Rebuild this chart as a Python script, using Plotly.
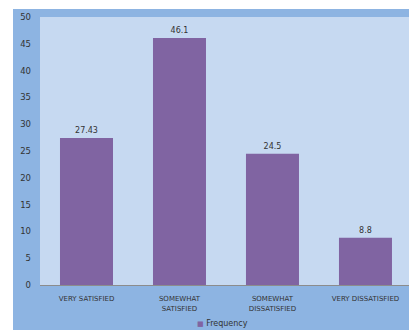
import plotly.graph_objects as go

categories = ["VERY SATISFIED", "SOMEWHAT<br>SATISFIED", "SOMEWHAT<br>DISSATISFIED", "VERY DISSATISFIED"]
frequency = [27.43, 46.1, 24.5, 8.8]
value_labels = ["27.43", "46.1", "24.5", "8.8"]
y_ticks = [0, 5, 10, 15, 20, 25, 30, 35, 40, 45, 50]
series_name = "Frequency"

W, H = 409, 330
L, R, T, B = 40, 0, 17, 45
PW, PH = W - L - R, H - T - B

fig = go.Figure()
fig.add_trace(go.Bar(
    x=list(range(len(categories))), y=frequency, name=series_name,
    marker=dict(color="#8064A2", line=dict(width=0)),
    text=value_labels, textposition="outside", cliponaxis=False,
    textfont=dict(family="DejaVu Sans", size=8, color="#333333"),
    width=0.57, showlegend=False,
))

fig.update_layout(
    width=W, height=H,
    margin=dict(l=L, r=R, t=T, b=B, pad=0),
    paper_bgcolor="#8DB4E2", plot_bgcolor="#C6D9F1",
    font=dict(family="DejaVu Sans", color="#333333"),
    xaxis=dict(range=[-0.5, 3.468], tickmode="array", tickvals=list(range(len(categories))),
               ticktext=categories, tickfont=dict(size=7, color="#333333"),
               showgrid=False, showline=True, linecolor="#8C8C8C", linewidth=1,
               ticks="", zeroline=False, ticklabelstandoff=7),
    yaxis=dict(range=[0, 50], tickmode="array", tickvals=y_ticks,
               tickfont=dict(size=8.5, color="#333333"), showgrid=False,
               showline=False, ticks="", zeroline=False, ticklabelstandoff=8),
    showlegend=False,
    bargap=0.43,
    annotations=[
        dict(xref="paper", yref="paper", x=(195 - L) / PW, y=-(323 - 285) / PH,
             xanchor="left", yanchor="middle", showarrow=False,
             text="<span style='color:#8064A2;font-size:7px'>■</span> " + series_name,
             font=dict(size=8, color="#333333")),
    ],
    shapes=[
        dict(type="rect", xref="paper", yref="paper", x0=-L/PW, x1=-(L-13)/PW,
             y0=-1, y1=2, fillcolor="white", line=dict(width=0), layer="below"),
        dict(type="rect", xref="paper", yref="paper", x0=-L/PW, x1=1.1,
             y0=1 + (T-9)/PH, y1=2, fillcolor="white", line=dict(width=0), layer="below"),
    ],
)

fig.write_html("out.html")
